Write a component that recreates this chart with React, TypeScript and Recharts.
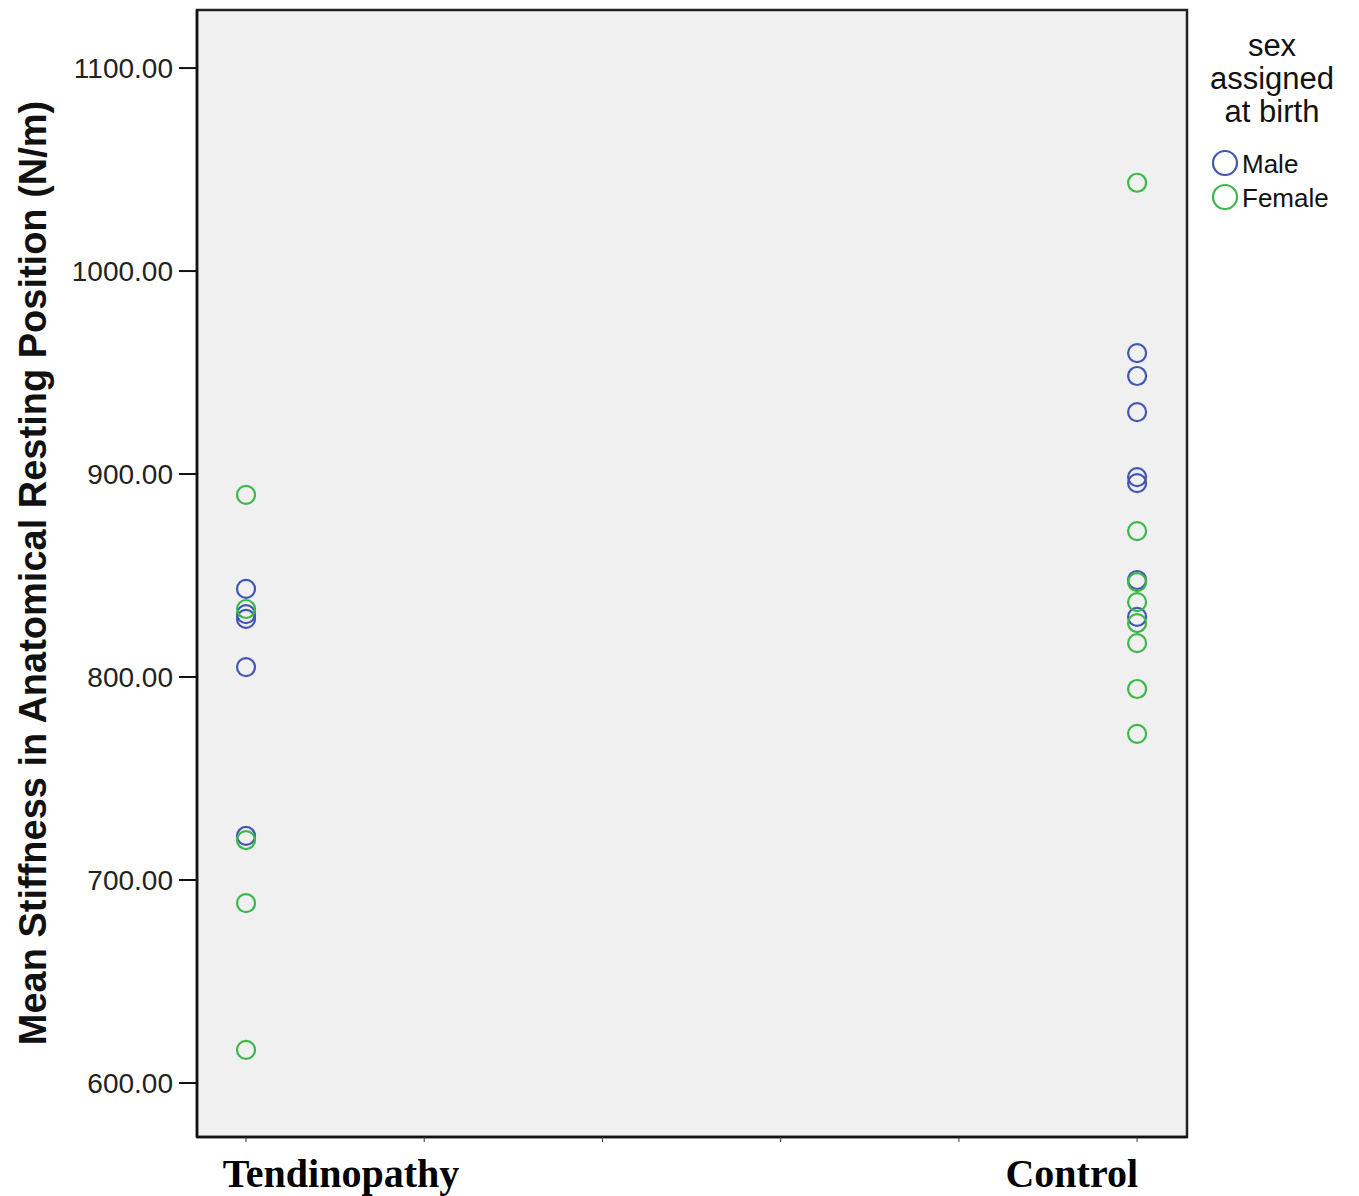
import { ScatterChart, Scatter, XAxis, YAxis, CartesianGrid, ReferenceArea } from 'recharts'

const groups = ['Tendinopathy', 'Control']
const tendinopathyMale = [843.4, 831.0, 828.6, 804.9, 721.7]
const tendinopathyFemale = [889.7, 833.5, 719.7, 688.6, 616.3]
const controlMale = [959.6, 948.3, 930.5, 898.5, 895.5, 847.8, 829.6]
const controlFemale = [1043.5, 871.9, 846.8, 836.9, 826.6, 816.7, 794.1, 772.0]
const yTicks = [600, 700, 800, 900, 1000, 1100]
const xTicks = [1, 1.2, 1.4, 1.6, 1.8, 2]

const MALE = '#4257b2'
const FEMALE = '#3cb84a'

const X_DOMAIN: [number, number] = [0.945, 2.056]
const Y_DOMAIN: [number, number] = [573.4, 1128.6]

const toPoints = (vals: number[], x: number) => vals.map((y) => ({ x, y }))

const maleData = [...toPoints(tendinopathyMale, 1), ...toPoints(controlMale, 2)]
const femaleData = [...toPoints(tendinopathyFemale, 1), ...toPoints(controlFemale, 2)]

const ring = (color: string) => (props: any) => (
  <circle cx={props.cx} cy={props.cy} r={9} fill="none" stroke={color} strokeWidth={2.2} />
)

const XTick = (props: any) => {
  const { x, y, payload } = props
  let label = ''
  let anchor: 'start' | 'end' | 'middle' = 'middle'
  let dx = 0
  if (payload.value === 1) {
    label = groups[0]
    dx = 95
  } else if (payload.value === 2) {
    label = groups[1]
    anchor = 'end'
    dx = 1
  }
  if (!label) return null
  return (
    <text x={x + dx} y={y + 43} textAnchor={anchor} fontFamily="'Liberation Serif', serif" fontWeight="bold" fontSize={40} fill="#000">
      {label}
    </text>
  )
}

const YTick = (props: any) => {
  const { x, y, payload } = props
  return (
    <text x={x} y={y} dy="0.35em" textAnchor="end" fontFamily="'Liberation Sans', Arial, sans-serif" fontSize={28} fill="#222">
      {payload.value.toFixed(2)}
    </text>
  )
}

const LegendBox = () => (
  <svg width={169} height={200} style={{ position: 'absolute', left: 1190, top: 20 }}>
    <g fontFamily="'Liberation Sans', Arial, sans-serif" fill="#111">
      <text x={82} y={36} textAnchor="middle" fontSize={31}>sex</text>
      <text x={82} y={69} textAnchor="middle" fontSize={31}>assigned</text>
      <text x={82} y={102} textAnchor="middle" fontSize={31}>at birth</text>
      <circle cx={35} cy={143} r={12} fill="none" stroke={MALE} strokeWidth={2.2} />
      <text x={52} y={153} fontSize={26}>Male</text>
      <circle cx={35} cy={177} r={12} fill="none" stroke={FEMALE} strokeWidth={2.2} />
      <text x={52} y={187} fontSize={26}>Female</text>
    </g>
  </svg>
)

export default function App() {
  return (
    <div style={{ position: 'absolute', left: 0, top: 0, width: 1359, height: 1196, background: '#fff' }}>
      <ScatterChart width={1359} height={1196} margin={{ top: 10, right: 172, bottom: 0, left: 0 }}>
        <CartesianGrid fill="#f0f0f0" horizontal={false} vertical={false} />
        <XAxis
          type="number"
          dataKey="x"
          domain={X_DOMAIN}
          ticks={xTicks}
          height={59}
          tick={<XTick />}
          tickSize={5}
          tickLine={{ stroke: '#333', strokeWidth: 1 }}
          axisLine={{ stroke: '#111', strokeWidth: 2.5 }}
          allowDataOverflow
        />
        <YAxis
          type="number"
          dataKey="y"
          domain={Y_DOMAIN}
          ticks={yTicks}
          width={197}
          tick={<YTick />}
          tickSize={18}
          tickMargin={6}
          tickLine={{ stroke: '#111', strokeWidth: 2 }}
          axisLine={{ stroke: '#111', strokeWidth: 2.5 }}
          allowDataOverflow
          label={{
            content: () => (
              <text
                x={33}
                y={573}
                transform="rotate(-90, 33, 573)"
                textAnchor="middle"
                dominantBaseline="central"
                fontFamily="'Liberation Sans', Arial, sans-serif"
                fontWeight="bold"
                fontSize={38}
                fill="#111"
              >
                Mean Stiffness in Anatomical Resting Position (N/m)
              </text>
            ),
          }}
        />
        <ReferenceArea
          x1={X_DOMAIN[0]}
          x2={X_DOMAIN[1]}
          y1={Y_DOMAIN[0]}
          y2={Y_DOMAIN[1]}
          fill="none"
          stroke="#222"
          strokeWidth={2.5}
          ifOverflow="visible"
        />
        <Scatter name="Male" data={maleData} shape={ring(MALE)} isAnimationActive={false} />
        <Scatter name="Female" data={femaleData} shape={ring(FEMALE)} isAnimationActive={false} />
      </ScatterChart>
      <LegendBox />
    </div>
  )
}
